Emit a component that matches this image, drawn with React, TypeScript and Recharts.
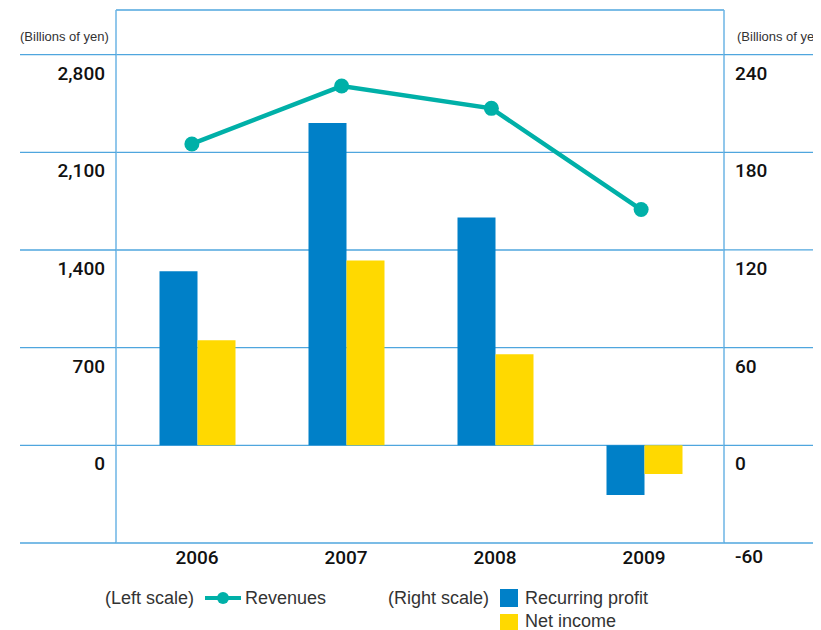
import { ComposedChart, Bar, Line, XAxis, YAxis, CartesianGrid } from 'recharts';

const years = ['2006', '2007', '2008', '2009'];
const revenues = [2160, 2575, 2415, 1690];
const recurringProfit = [107, 198, 140, -30.5];
const netIncome = [64.5, 113.5, 56, -17.6];
const leftTicks = [-700, 0, 700, 1400, 2100, 2800];
const rightTicks = [-60, 0, 60, 120, 180, 240];

const chartData = years.map((year, i) => ({
  year,
  revenues: revenues[i],
  recurring: recurringProfit[i],
  net: netIncome[i],
}));

const W = 813;
const H = 570;
const PLOT_LEFT = 108;
const PLOT_RIGHT = 716;
const GRID = '#4fa6de';
const FRAME = '#6cb5e5';
const TEAL = '#00b0a8';
const BLUE = '#0080c8';
const YELLOW = '#ffd900';
const tickFont = { fontFamily: 'Roboto, "Liberation Sans", sans-serif', fontWeight: 500, fontSize: 19, fill: '#111' };
const textFont = '"Liberation Sans", Arial, sans-serif';

const LeftTick = (props: any) => {
  const { y, payload } = props;
  return (
    <g>
      <line x1={12} x2={PLOT_LEFT} y1={y} y2={y} stroke={GRID} strokeWidth={1.3} />
      {payload.value !== -700 && (
        <text x={97} y={y + 18.5} textAnchor="end" dominantBaseline="central" {...tickFont}>
          {payload.value.toLocaleString('en-US')}
        </text>
      )}
    </g>
  );
};

const RightTick = (props: any) => {
  const { y, payload } = props;
  const bottom = payload.value === -60;
  return (
    <g>
      <line x1={PLOT_RIGHT} x2={bottom ? 805 : W} y1={y} y2={y} stroke={GRID} strokeWidth={1.3} />
      <text x={727} y={y + (bottom ? 13 : 18.5)} textAnchor="start" dominantBaseline="central" {...tickFont}>
        {payload.value}
      </text>
    </g>
  );
};

const YearTick = (props: any) => {
  const { x, payload } = props;
  return (
    <text x={x} y={535 + 14} textAnchor="middle" dominantBaseline="central" {...tickFont}>
      {payload.value}
    </text>
  );
};

const label = (left: number, top: number, text: string, size = 18) => (
  <div
    style={{
      position: 'absolute', left, top, height: 18, lineHeight: '18px',
      fontFamily: textFont, fontSize: size, color: '#333', whiteSpace: 'nowrap',
    }}
  >
    {text}
  </div>
);

export default function App() {
  return (
    <div style={{ position: 'relative', width: W, height: 622, overflow: 'hidden', background: '#fff' }}>
      <ComposedChart
        width={W}
        height={H}
        data={chartData}
        margin={{ top: 2, right: 0, bottom: 0, left: 0 }}
        barGap={0}
      >
        <CartesianGrid xAxisId="bar" yAxisId="left" vertical={false} stroke={GRID} strokeWidth={1.3} />
        <XAxis
          xAxisId="bar"
          dataKey="year"
          height={35}
          padding={{ left: 6.5, right: 5.5 }}
          axisLine={false}
          tickLine={false}
          tick={<YearTick />}
        />
        <XAxis
          xAxisId="line"
          dataKey="year"
          orientation="top"
          height={0}
          padding={{ left: 1, right: 8 }}
          axisLine={{ stroke: FRAME, strokeWidth: 1.5 }}
          tickLine={false}
          tick={false}
        />
        <YAxis
          yAxisId="left"
          width={PLOT_LEFT}
          domain={[-700, 3120]}
          ticks={leftTicks}
          axisLine={{ stroke: FRAME, strokeWidth: 1.5 }}
          tickLine={false}
          tick={<LeftTick />}
        />
        <YAxis
          yAxisId="right"
          orientation="right"
          width={W - PLOT_RIGHT}
          domain={[-60, 267.4]}
          ticks={rightTicks}
          axisLine={{ stroke: FRAME, strokeWidth: 1.5 }}
          tickLine={false}
          tick={<RightTick />}
        />
        <Bar xAxisId="bar" yAxisId="right" dataKey="recurring" fill={BLUE} barSize={38} isAnimationActive={false} />
        <Bar xAxisId="bar" yAxisId="right" dataKey="net" fill={YELLOW} barSize={38} isAnimationActive={false} />
        <Line
          xAxisId="line"
          yAxisId="left"
          dataKey="revenues"
          type="linear"
          stroke={TEAL}
          strokeWidth={4.5}
          dot={{ r: 7.5, fill: TEAL, stroke: TEAL, strokeWidth: 0 }}
          isAnimationActive={false}
        />
      </ComposedChart>

      {label(12, 20, '(Billions of yen)', 13)}
      {label(729, 20, '(Billions of yen)', 13)}

      {label(97, 581, '(Left scale)')}
      <svg style={{ position: 'absolute', left: 197, top: 582 }} width={36} height={16}>
        <line x1={0} x2={36} y1={8} y2={8} stroke={TEAL} strokeWidth={4} />
        <circle cx={18} cy={8} r={6} fill={TEAL} />
      </svg>
      {label(237, 581, 'Revenues')}
      {label(380, 581, '(Right scale)')}
      <div style={{ position: 'absolute', left: 492, top: 581, width: 18, height: 18, background: BLUE }} />
      {label(517, 581, 'Recurring profit')}
      <div style={{ position: 'absolute', left: 492, top: 606, width: 18, height: 16, background: YELLOW }} />
      {label(517, 604, 'Net income')}
    </div>
  );
}
